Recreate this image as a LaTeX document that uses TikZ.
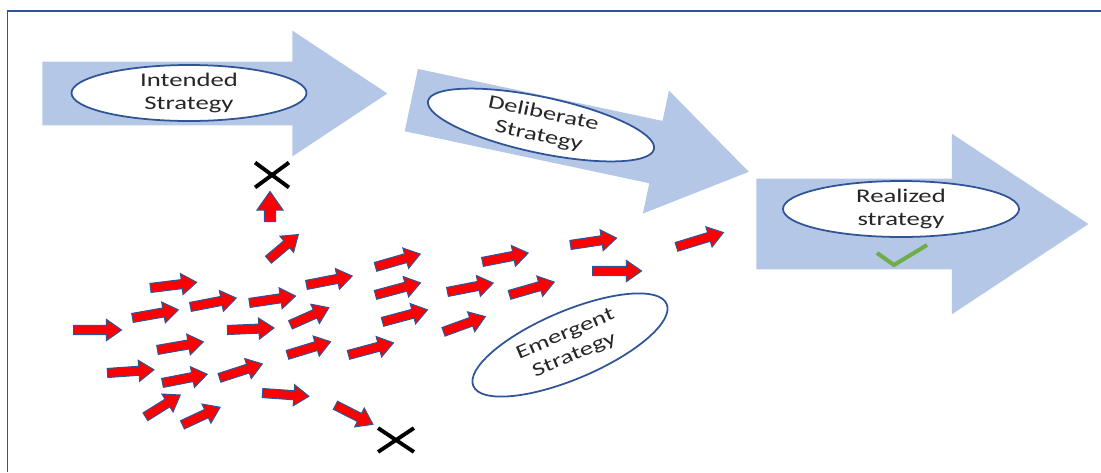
\documentclass[tikz,border=0pt]{standalone}
\usepackage{fontspec}
\setmainfont{Carlito}[FakeStretch=1.38]
\usetikzlibrary{shapes.arrows, shapes.geometric, shapes.misc, positioning}

\definecolor{arrowblue}{HTML}{B4C7E7}
\definecolor{lineblue}{HTML}{2F5597}
\definecolor{tickgreen}{HTML}{70AD47}

\tikzset{
	bigarrow/.style={single arrow, draw=none, fill=arrowblue, anchor=tail,
		text height=0pt, text depth=0pt, inner xsep=0pt,
		single arrow tip angle=67, single arrow head indent=0pt},
	oval/.style={ellipse, draw=lineblue, line width=1pt, fill=white,
		inner sep=0pt, align=center, text=black!85,
		font=\fontsize{11}{13}\selectfont},
	redarrow/.style={single arrow, draw=lineblue, line width=0.6pt, fill=red,
		anchor=tail, text height=0pt, text depth=0pt, inner xsep=0pt,
		inner ysep=0.8mm, single arrow head extend=1.2mm,
		single arrow tip angle=70, single arrow head indent=0pt,
		minimum height=9.3mm},
	nogo/.style={cross out, draw=black, line width=2.2pt, inner sep=0pt,
		minimum width=6mm, minimum height=4.2mm}
}

\begin{document}
\begin{tikzpicture}[x=0.2mm, y=-0.2mm]
\useasboundingbox (0,0) rectangle (1101,472);

% Frame
\draw[lineblue, line width=1.1pt] (7.5,472) -- (7.5,11) -- (1101,11);

% Add the big arrows
\node[bigarrow,
		inner ysep=6.3mm,
		single arrow head extend=6.2mm,
		minimum height=69mm] (intended) at (42,93.5) {};

\node[bigarrow,
		rotate=-12,
		inner ysep=6.3mm,
		single arrow head extend=6.2mm,
		minimum height=69mm] (deliberate) at (411,100) {};

\node[bigarrow,
		inner ysep=9mm,
		single arrow head extend=9mm,
		minimum height=66.4mm] (realized) at (756,224) {};

% Labels
\node[oval, minimum width=47mm, minimum height=10mm] (intendedtxt) at (189,93) {Intended\\Strategy};
\node[oval, rotate=-12, minimum width=46.2mm, minimum height=10.4mm] (deliberatetxt) at (541,125) {Deliberate\\Strategy};
\node[oval, minimum width=47.2mm, minimum height=10.4mm] (realizedtxt) at (901,209) {Realized\\strategy};
\node[oval, rotate=23, minimum width=42mm, minimum height=13.6mm] (emergenttxt) at (570,345) {Emergent\\Strategy};

% Tick and crosses
\draw[tickgreen, line width=2.3pt] (877,253) -- (894,265) -- (927,245);
\node[nogo] (stop1) at (272,175) {};
\node[nogo, minimum width=6.4mm, minimum height=4mm] (stop2) at (396,440) {};

% Small red arrows
\node[redarrow, rotate=0, minimum height=9.6mm] (e1) at (73,330) {};
\node[redarrow, rotate=10] (e2) at (132,318) {};
\node[redarrow, rotate=7] (e3) at (150,288) {};
\node[redarrow, rotate=11] (e4) at (190,307) {};
\node[redarrow, rotate=8.5] (e5) at (249,303) {};
\node[redarrow, rotate=11] (e6) at (306,285) {};
\node[redarrow, rotate=16] (e7) at (375,267) {};
\node[redarrow, rotate=15] (e8) at (375,295) {};
\node[redarrow, rotate=15] (e9) at (382,322) {};
\node[redarrow, rotate=2.5] (e10) at (227,330) {};
\node[redarrow, rotate=24, minimum height=8.4mm] (e11) at (290,325) {};
\node[redarrow, rotate=10] (e12) at (157,350) {};
\node[redarrow, rotate=4] (e13) at (107,373) {};
\node[redarrow, rotate=11, minimum height=9.1mm] (e14) at (162,383) {};
\node[redarrow, rotate=18, minimum height=9mm] (e15) at (219,378) {};
\node[redarrow, rotate=17, minimum height=9mm] (e16) at (287,355) {};
\node[redarrow, rotate=15] (e17) at (348,355) {};
\node[redarrow, rotate=-4] (e18) at (262,393) {};
\node[redarrow, rotate=-27, minimum height=8.4mm] (e19) at (335,405) {};
\node[redarrow, rotate=32, minimum height=8.2mm] (e20) at (145,417) {};
\node[redarrow, rotate=25, minimum height=8.3mm] (e21) at (182,425) {};
\node[redarrow, rotate=40, minimum height=7.8mm] (e22) at (268,260) {};
\node[redarrow, rotate=90, minimum height=6mm, inner ysep=1mm,
		single arrow head extend=1.5mm] (e23) at (270,222) {};
\node[redarrow, rotate=11] (e24) at (482,262) {};
\node[redarrow, rotate=8.5] (e25) at (570,245) {};
\node[redarrow, rotate=17, minimum height=9.8mm] (e26) at (676,247) {};
\node[redarrow, rotate=0, minimum height=9.8mm] (e27) at (592,271) {};
\node[redarrow, rotate=11] (e28) at (447,292) {};
\node[redarrow, rotate=16] (e29) at (509,295) {};
\node[redarrow, rotate=20, minimum height=8.9mm] (e30) at (443,332) {};
\end{tikzpicture}
\end{document}
